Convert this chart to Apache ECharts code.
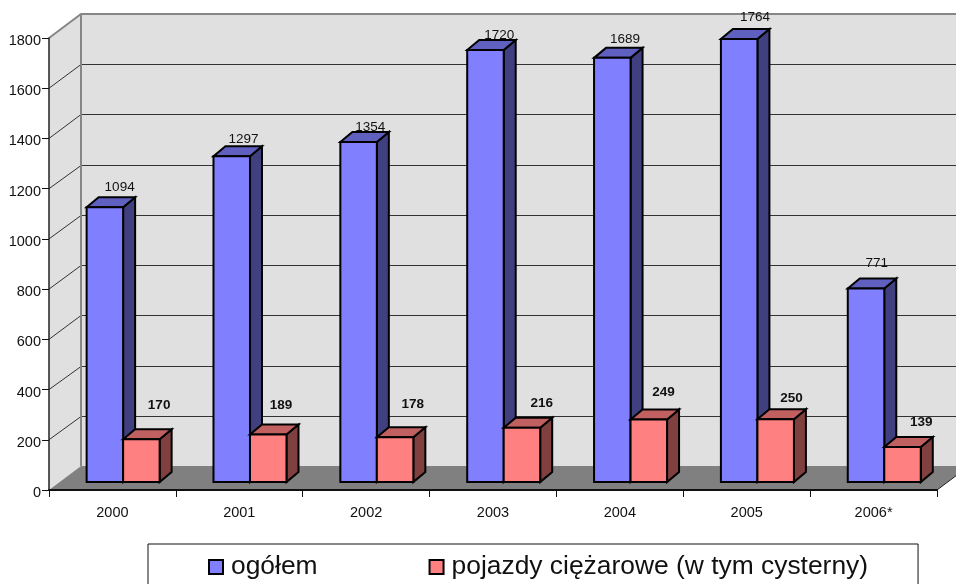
<!DOCTYPE html>
<html>
<head>
<meta charset="utf-8">
<style>
  html, body { margin: 0; padding: 0; background: #fff; }
  #chart { width: 956px; height: 584px; }
</style>
<script src="https://cdn.jsdelivr.net/npm/echarts@6/dist/echarts.min.js"></script>
</head>
<body>
<div id="chart"></div>
<script>
const years = ["2000", "2001", "2002", "2003", "2004", "2005", "2006*"];
const totalValues = [1094, 1297, 1354, 1720, 1689, 1764, 771];
const truckValues = [170, 189, 178, 216, 249, 250, 139];
const yTicks = [0, 200, 400, 600, 800, 1000, 1200, 1400, 1600, 1800];
const totalName = "ogółem";
const truckName = "pojazdy ciężarowe (w tym cysterny)";

// hand placed value labels, as in the original: [dx from bar left, dy from bar top]
const totalLabelShift = [[33, -20], [30, -17], [30, -15], [32, -15], [31, -19], [34, -22], [29, -25]];
const truckLabelShift = [[36, -34], [31, -29], [36, -33], [38, -24], [33, -27], [34, -21], [37, -25]];

const FONT = '"Liberation Sans", Arial, sans-serif';
const WALL = { dx: 32, dy: 24 };     // depth of the whole box
const BAR_FRONT = { dx: 10.7, dy: 8 }; // front face of bars, pushed back from the axis
const BAR_DEPTH = { dx: 12, dy: 10 };
const BAR_W = 36.5;

const poly = (points, fill, stroke, lineWidth) => ({
  type: "polygon",
  shape: { points },
  style: { fill, stroke, lineWidth, lineJoin: "miter" },
});
const line = (points, stroke, lineWidth) => ({
  type: "polyline",
  shape: { points },
  style: { fill: null, stroke, lineWidth },
});

const renderWalls = (params, api) => {
  const { x, y, width, height } = params.coordSys;
  const { dx, dy } = WALL;
  const bottom = y + height;
  const right = x + width;
  const children = [
    poly([[x + dx, y - dy], [right + dx, y - dy], [right + dx, bottom - dy], [x + dx, bottom - dy]], "#e0e0e0"),
    poly([[x, y], [x + dx, y - dy], [x + dx, bottom - dy], [x, bottom]], "#e0e0e0"),
    poly([[x, bottom], [x + dx, bottom - dy], [right + dx, bottom - dy], [right, bottom]], "#808080"),
  ];
  yTicks.forEach((v) => {
    if (v === 0 || v === 1800) return;
    const ty = api.coord([0, v])[1];
    // snap to the pixel row so the back wall lines stay crisp
    const by = Math.round(ty - dy) + 0.5;
    children.push(line([[x, ty], [x + dx, by], [right + dx, by]], "#333", 1));
  });
  children.push(line([[x, y], [x + dx, y - dy], [right + dx, y - dy]], "#868686", 2));
  children.push(line([[x + dx, y - dy], [x + dx, bottom - dy]], "#868686", 2));
  children.push(line([[right, bottom], [right + dx, bottom - dy]], "#222", 1));
  return { type: "group", children };
};

// side: -1 is the bar left of the category centre, 0 the one right of it
const makeBarRenderer = (side, colors, labelShift, fontWeight) => (params, api) => {
  const i = api.value(0);
  const value = api.value(1);
  const top = api.coord([i, value]);
  const base = api.coord([i, 0]);
  const x0 = top[0] + BAR_FRONT.dx + side * BAR_W;
  const x1 = x0 + BAR_W;
  const yTop = top[1] - BAR_FRONT.dy;
  const yBase = base[1] - BAR_FRONT.dy;
  const { dx, dy } = BAR_DEPTH;
  const shift = labelShift[i];
  return {
    type: "group",
    children: [
      poly([[x1, yTop], [x1 + dx, yTop - dy], [x1 + dx, yBase - dy], [x1, yBase]], colors.side, "#000", 2),
      poly([[x0, yTop], [x0 + dx, yTop - dy], [x1 + dx, yTop - dy], [x1, yTop]], colors.top, "#000", 2),
      poly([[x0, yTop], [x1, yTop], [x1, yBase], [x0, yBase]], api.visual("color"), "#000", 2),
      {
        type: "text",
        style: {
          x: x0 + shift[0],
          y: yTop + shift[1],
          text: String(value),
          align: "center",
          verticalAlign: "middle",
          font: fontWeight + " 13.5px " + FONT,
          fill: "#111",
        },
      },
    ],
  };
};

const chart = echarts.init(document.getElementById("chart"), null, { renderer: "canvas" });

chart.setOption({
  animation: false,
  backgroundColor: "#fff",
  textStyle: { fontFamily: FONT },
  grid: { left: 49, right: 19, top: 38, bottom: 94, containLabel: false },
  xAxis: {
    type: "category",
    data: years,
    axisLine: { lineStyle: { color: "#111", width: 2 } },
    axisTick: { show: true, length: 7, lineStyle: { color: "#111", width: 1 } },
    axisLabel: { color: "#111", fontSize: 14.5, margin: 15, fontFamily: FONT },
    splitLine: { show: false },
    z: 5,
  },
  yAxis: {
    type: "value",
    min: 0,
    max: 1800,
    interval: 200,
    axisLine: { show: true, lineStyle: { color: "#222", width: 1.5 } },
    axisTick: { show: true, length: 7, lineStyle: { color: "#111", width: 1 } },
    axisLabel: {
      color: "#111",
      fontSize: 14.5,
      margin: 8,
      fontFamily: FONT,
      formatter: (v) => String(v),
      verticalAlign: "top",
      lineHeight: 6,
    },
    splitLine: { show: false },
    z: 5,
  },
  legend: {
    data: [
      { name: totalName, icon: "rect" },
      { name: truckName, icon: "rect" },
    ],
    left: 148,
    top: 544,
    padding: [10, 50, 24, 60],
    itemWidth: 14,
    itemHeight: 14,
    itemGap: 111,
    borderColor: "#111",
    borderWidth: 1,
    backgroundColor: "#fff",
    itemStyle: { borderColor: "#000", borderWidth: 2 },
    textStyle: { fontSize: 26.4, color: "#111", fontFamily: FONT, padding: [0, 0, 0, 3] },
  },
  series: [
    {
      type: "custom",
      name: "walls",
      coordinateSystem: "cartesian2d",
      clip: false,
      silent: true,
      z: 1,
      data: [[0, 0]],
      renderItem: renderWalls,
    },
    {
      type: "custom",
      name: totalName,
      coordinateSystem: "cartesian2d",
      clip: false,
      z: 2,
      itemStyle: { color: "#8080ff" },
      data: totalValues.map((v, i) => [i, v]),
      encode: { x: 0, y: 1 },
      renderItem: makeBarRenderer(-1, { side: "#404080", top: "#6060c0" }, totalLabelShift, "normal"),
    },
    {
      type: "custom",
      name: truckName,
      coordinateSystem: "cartesian2d",
      clip: false,
      z: 3,
      itemStyle: { color: "#ff8080" },
      data: truckValues.map((v, i) => [i, v]),
      encode: { x: 0, y: 1 },
      renderItem: makeBarRenderer(0, { side: "#804040", top: "#c06060" }, truckLabelShift, "bold"),
    },
  ],
});
</script>
</body>
</html>
